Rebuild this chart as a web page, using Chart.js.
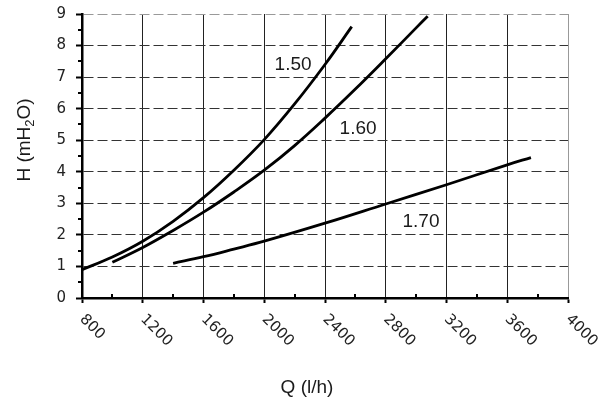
<!DOCTYPE html>
<html>
<head>
<meta charset="utf-8">
<title>H-Q curves</title>
<script src="https://cdn.jsdelivr.net/npm/chart.js@4.4.1/dist/chart.umd.min.js"></script>
<style>
  body { margin: 0; background: #fff; }
  #wrap { width: 600px; height: 405px; }
</style>
</head>
<body>
<div id="wrap"><canvas id="pumpChart" width="600" height="405"></canvas></div>
<script>
// flow Q (l/h) and head H (mH2O)
const q150 = [800, 1000, 1200, 1400, 1600, 1800, 2000, 2200, 2400, 2576];
const h150 = [0.9, 1.3, 1.8, 2.43, 3.18, 4.05, 5.02, 6.15, 7.4, 8.6];
const q160 = [1000, 1200, 1400, 1600, 1800, 2000, 2200, 2400, 2600, 2800, 3000, 3076];
const h160 = [1.13, 1.6, 2.14, 2.72, 3.36, 4.05, 4.83, 5.7, 6.62, 7.58, 8.56, 8.93];
const q170 = [1400, 1600, 1800, 2000, 2400, 2800, 3200, 3600, 3756];
const h170 = [1.1, 1.31, 1.55, 1.8, 2.37, 2.98, 3.59, 4.22, 4.45];

const curveNames = ['1.50', '1.60', '1.70'];
// where each name sits, in data units (Q, H)
const nameQ = [2190, 2618, 3032];
const nameH = [7.44, 5.42, 2.48];

const qTicks = [800, 1200, 1600, 2000, 2400, 2800, 3200, 3600, 4000];
const hTicks = [0, 1, 2, 3, 4, 5, 6, 7, 8, 9];

function toPoints(qs, hs) {
  return qs.map((q, i) => ({ x: q, y: hs[i] }));
}

const lineFont = "'Liberation Sans', Arial, sans-serif";
const tickFont = "'DejaVu Sans', Verdana, sans-serif";

// minor ticks, rotated Q labels, axis titles and curve names
const extras = {
  id: 'extras',
  afterDraw(chart) {
    const ctx = chart.ctx;
    const xs = chart.scales.x;
    const ys = chart.scales.y;
    const area = chart.chartArea;

    ctx.save();
    ctx.strokeStyle = '#000';
    ctx.lineWidth = 2;
    // minor ticks half way between the major ones
    for (let i = 0; i < qTicks.length - 1; i++) {
      const px = Math.round(xs.getPixelForValue((qTicks[i] + qTicks[i + 1]) / 2));
      ctx.beginPath();
      ctx.moveTo(px, area.bottom);
      ctx.lineTo(px, area.bottom - 4);
      ctx.stroke();
    }
    for (let i = 0; i < hTicks.length - 1; i++) {
      const py = Math.round(ys.getPixelForValue((hTicks[i] + hTicks[i + 1]) / 2));
      ctx.beginPath();
      ctx.moveTo(area.left, py);
      ctx.lineTo(area.left - 4, py);
      ctx.stroke();
    }

    // Q tick labels, slanted downwards
    ctx.fillStyle = '#222';
    ctx.font = '15px ' + tickFont;
    ctx.textAlign = 'left';
    ctx.textBaseline = 'middle';
    qTicks.forEach(v => {
      const px = xs.getPixelForValue(v);
      ctx.save();
      ctx.translate(px, area.bottom + 19);
      ctx.rotate(Math.PI / 4);
      ctx.fillText(String(v), 0, 0);
      ctx.restore();
    });

    // axis titles
    ctx.fillStyle = '#1a1a1a';
    ctx.textBaseline = 'alphabetic';
    ctx.font = '19px ' + lineFont;
    ctx.textAlign = 'center';
    ctx.fillText('Q (l/h)', 307, 393);

    ctx.save();
    ctx.translate(30, 140);
    ctx.rotate(-Math.PI / 2);
    const partA = 'H (mH', partB = '2', partC = 'O)';
    ctx.font = '19px ' + lineFont;
    const wA = ctx.measureText(partA).width;
    const wC = ctx.measureText(partC).width;
    ctx.font = '13px ' + lineFont;
    const wB = ctx.measureText(partB).width;
    let x0 = -(wA + wB + wC) / 2;
    ctx.textAlign = 'left';
    ctx.font = '19px ' + lineFont;
    ctx.fillText(partA, x0, 0);
    ctx.font = '13px ' + lineFont;
    ctx.fillText(partB, x0 + wA, 4);
    ctx.font = '19px ' + lineFont;
    ctx.fillText(partC, x0 + wA + wB, 0);
    ctx.restore();

    // curve names
    ctx.font = '19px ' + lineFont;
    ctx.textAlign = 'center';
    ctx.fillStyle = '#1a1a1a';
    curveNames.forEach((name, i) => {
      const px = xs.getPixelForValue(nameQ[i]);
      const py = ys.getPixelForValue(nameH[i]);
      ctx.fillText(name, px, py + 7);
    });
    ctx.restore();
  }
};

const lineStyle = {
  borderColor: '#000',
  borderWidth: 2.8,
  pointRadius: 0,
  fill: false,
  tension: 0.4
};

new Chart(document.getElementById('pumpChart'), {
  type: 'line',
  data: {
    datasets: [
      Object.assign({ label: curveNames[0], data: toPoints(q150, h150) }, lineStyle),
      Object.assign({ label: curveNames[1], data: toPoints(q160, h160) }, lineStyle),
      Object.assign({ label: curveNames[2], data: toPoints(q170, h170) }, lineStyle)
    ]
  },
  options: {
    responsive: false,
    animation: false,
    layout: { padding: { top: 14, right: 32, left: 0, bottom: 0 } },
    plugins: {
      legend: { display: false },
      tooltip: { enabled: false }
    },
    scales: {
      x: {
        type: 'linear',
        min: 800,
        max: 4000,
        afterBuildTicks: s => { s.ticks = qTicks.map(v => ({ value: v })); },
        afterFit: s => {
          s.height = 107;
          s.paddingLeft = 0; s.paddingRight = 0;
        },
        ticks: { display: false },
        grid: {
          color: c => c.tick.value === 800 ? 'rgba(0,0,0,0)' : (c.tick.value === 4000 ? '#999' : '#222'),
          lineWidth: 1,
          tickLength: 5,
          tickColor: '#000',
          tickWidth: 2
        },
        border: { color: '#000', width: 2.5 }
      },
      y: {
        min: 0,
        max: 9,
        afterBuildTicks: s => { s.ticks = hTicks.map(v => ({ value: v })); },
        afterFit: s => {
          s.width = 82;
          s.paddingTop = 0; s.paddingBottom = 0;
        },
        ticks: {
          color: '#222',
          font: { family: tickFont, size: 15 },
          padding: 10
        },
        grid: {
          color: c => c.tick.value === 0 ? 'rgba(0,0,0,0)' : (c.tick.value === 9 ? '#999' : '#333'),
          lineWidth: 1,
          tickLength: 6,
          tickColor: '#000',
          tickWidth: 2
        },
        border: { color: '#000', width: 2.5, dash: [10, 4] }
      }
    }
  },
  plugins: [extras]
});
</script>
</body>
</html>
